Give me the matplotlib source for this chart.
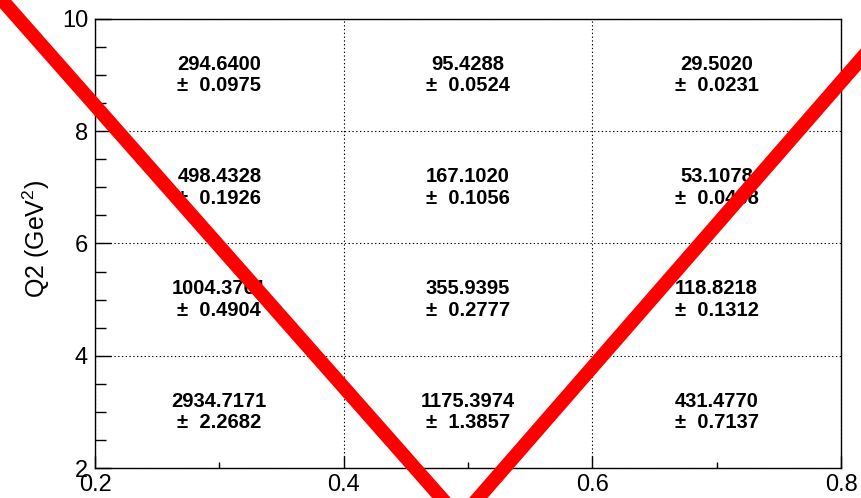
import matplotlib
matplotlib.use("Agg")
import matplotlib.pyplot as plt
from matplotlib.lines import Line2D
from matplotlib.ticker import MultipleLocator
import numpy as np

plt.rcParams['font.family'] = ['Liberation Sans', 'DejaVu Sans']
plt.rcParams['mathtext.default'] = 'regular'

# bin edges
x_edges = [0.2, 0.4, 0.6, 0.8]
y_edges = [2, 4, 6, 8, 10]

# cell contents, rows go from low Q2 to high Q2
values = [
    [2934.7171, 1175.3974, 431.4770],
    [1004.3761, 355.9395, 118.8218],
    [498.4328, 167.1020, 53.1078],
    [294.6400, 95.4288, 29.5020],
]
errors = [
    [2.2682, 1.3857, 0.7137],
    [0.4904, 0.2777, 0.1312],
    [0.1926, 0.1056, 0.0468],
    [0.0975, 0.0524, 0.0231],
]

W, H = 861, 498
fig = plt.figure(figsize=(W / 100, H / 100), dpi=100)
ax = fig.add_axes([95 / W, 1 - 468 / H, 746 / W, 449 / H])

ax.set_xlim(x_edges[0], x_edges[-1])
ax.set_ylim(y_edges[0], y_edges[-1])

xc = 0.5 * (np.array(x_edges[:-1]) + np.array(x_edges[1:]))
yc = 0.5 * (np.array(y_edges[:-1]) + np.array(y_edges[1:]))
for i, y in enumerate(yc):
    for j, x in enumerate(xc):
        ax.text(x, y, "%.4f\n\u00b1  %.4f" % (values[i][j], errors[i][j]),
                ha="center", va="center", fontsize=14.5, fontweight="bold",
                linespacing=1.15)

ax.xaxis.set_major_locator(MultipleLocator(0.2))
ax.xaxis.set_minor_locator(MultipleLocator(0.1))
ax.yaxis.set_major_locator(MultipleLocator(2))
ax.yaxis.set_minor_locator(MultipleLocator(0.5))
ax.xaxis.set_major_formatter(plt.FormatStrFormatter("%.1f"))

ax.tick_params(axis="x", which="major", direction="in", length=8.6, width=1,
               labelsize=17, pad=4.5)
ax.tick_params(axis="x", which="minor", direction="in", length=4.3, width=1)
ax.tick_params(axis="y", which="major", direction="in", length=11.5, width=1,
               labelsize=17, pad=5)
ax.tick_params(axis="y", which="minor", direction="in", length=8, width=1)

ax.grid(True, which="major", color="black", linestyle=(0, (1.2, 2.2)), lw=0.8)
for s in ax.spines.values():
    s.set_linewidth(1)

ax.set_ylabel("Q2 (GeV$^{2}$)", fontsize=18)
ax.yaxis.set_label_coords(-0.058, 0.51)

# red V drawn over the whole canvas (pixel coords)
vx = [-24.5, 460, 938.6]
vy = [-30, 519, -30]
fig.add_artist(Line2D([v / W for v in vx], [1 - v / H for v in vy],
                      transform=fig.transFigure, color="red", lw=10,
                      solid_joinstyle="miter"))

fig.savefig("out.png", dpi=100)
